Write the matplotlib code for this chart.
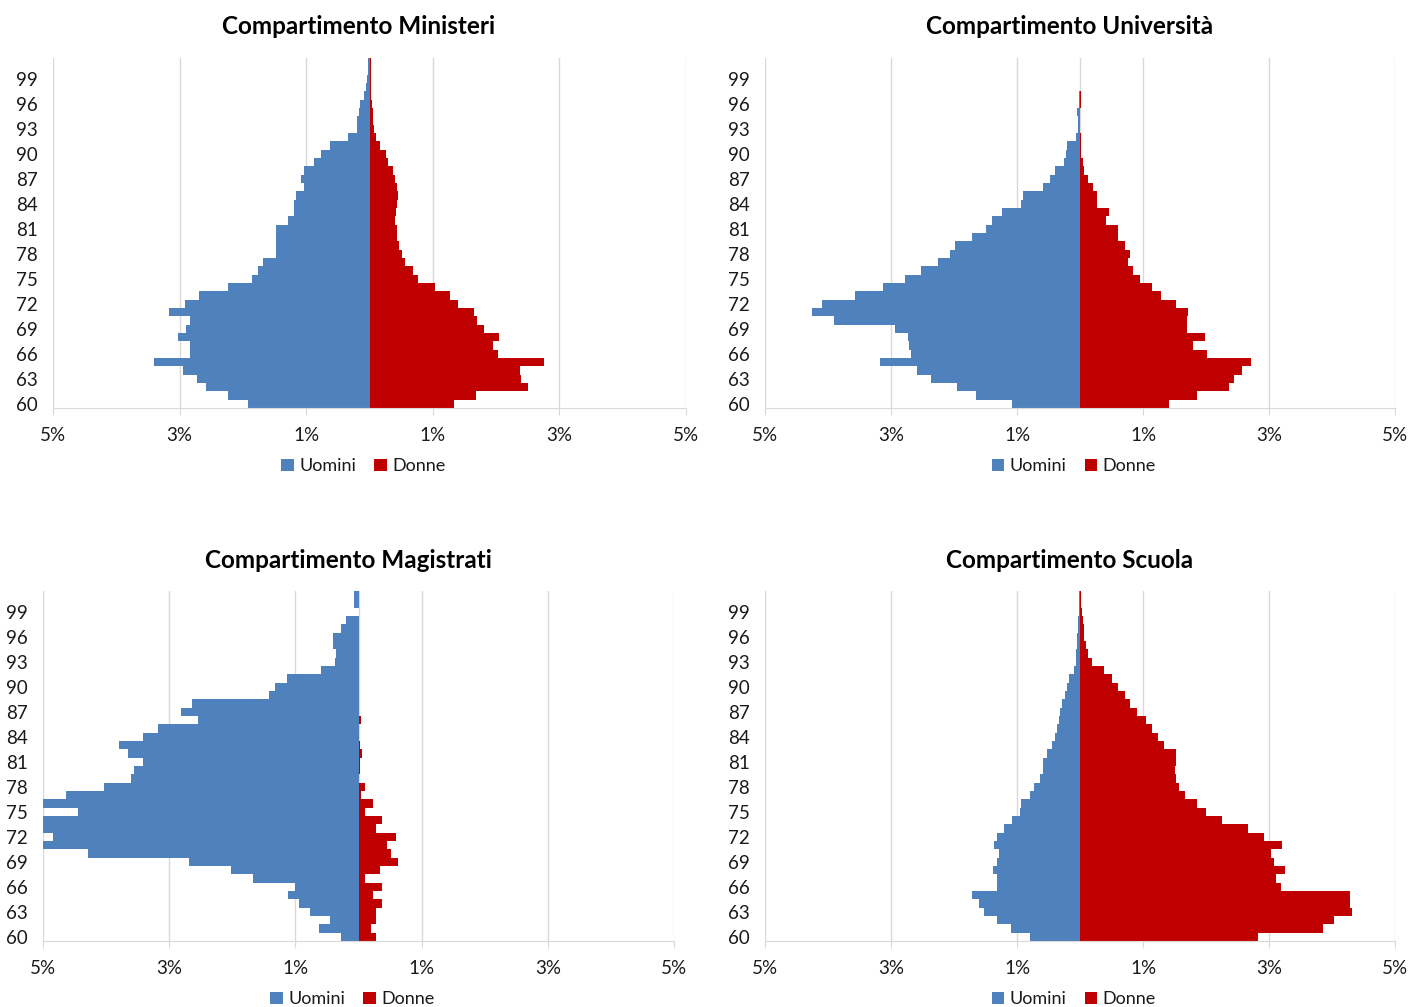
import numpy as np
import matplotlib.pyplot as plt

# Eta' 60..101 (una barra per anno)
ages = list(range(60, 102))
age_ticks = list(range(60, 100, 3))

x_ticks = [-5, -3, -1, 1, 3, 5]
x_labels = ["5%", "3%", "1%", "1%", "3%", "5%"]

# Quote percentuali per eta', da 60 a 101 anni
min_uomini = [1.92, 2.24, 2.58, 2.73, 2.94, 3.41, 2.84, 2.84, 3.02, 2.90, 2.84, 3.16, 2.92, 2.70,
              2.24, 1.86, 1.76, 1.69, 1.48, 1.48, 1.48, 1.47, 1.29, 1.20, 1.20, 1.16, 1.04, 1.08,
              1.04, 0.87, 0.76, 0.62, 0.34, 0.19, 0.20, 0.17, 0.15, 0.09, 0.06, 0.04, 0.02, 0.02]
min_donne = [1.34, 1.69, 2.50, 2.40, 2.37, 2.75, 2.03, 1.95, 2.05, 1.81, 1.70, 1.65, 1.40, 1.27,
             1.03, 0.77, 0.68, 0.56, 0.51, 0.46, 0.43, 0.43, 0.40, 0.42, 0.44, 0.45, 0.43, 0.41,
             0.37, 0.30, 0.26, 0.17, 0.10, 0.07, 0.06, 0.05, 0.04, 0.03, 0.02, 0.02, 0.02, 0.02]

uni_uomini = [1.08, 1.65, 1.95, 2.37, 2.58, 3.17, 2.68, 2.72, 2.73, 2.93, 3.90, 4.26, 4.09, 3.57,
              3.12, 2.77, 2.52, 2.26, 2.06, 1.98, 1.71, 1.50, 1.40, 1.24, 0.94, 0.91, 0.58, 0.47,
              0.40, 0.26, 0.22, 0.20, 0.06, 0.03, 0.03, 0.04, 0.02, 0.02, 0.0, 0.0, 0.0, 0.0]
uni_donne = [1.42, 1.85, 2.37, 2.44, 2.57, 2.71, 2.01, 1.79, 1.98, 1.70, 1.70, 1.72, 1.52, 1.28,
             1.15, 0.95, 0.84, 0.76, 0.80, 0.72, 0.60, 0.60, 0.42, 0.46, 0.27, 0.27, 0.20, 0.12,
             0.06, 0.05, 0.01, 0.02, 0.02, 0.005, 0.005, 0.005, 0.02, 0.01, 0.0, 0.0, 0.0, 0.0]

mag_uomini = [0.27, 0.62, 0.45, 0.77, 0.94, 1.11, 1.01, 1.67, 2.02, 2.68, 4.28, 5.00, 4.84, 5.00,
              5.00, 4.45, 5.00, 4.63, 4.03, 3.61, 3.55, 3.41, 3.65, 3.79, 3.41, 3.17, 2.54, 2.82,
              2.64, 1.42, 1.32, 1.14, 0.59, 0.38, 0.35, 0.41, 0.41, 0.27, 0.20, 0.0, 0.07, 0.07]
mag_donne = [0.28, 0.20, 0.27, 0.28, 0.38, 0.23, 0.38, 0.11, 0.34, 0.63, 0.52, 0.45, 0.59, 0.28,
             0.38, 0.10, 0.23, 0.04, 0.10, 0.0, 0.03, 0.03, 0.06, 0.03, 0.0, 0.0, 0.04, 0.0,
             0.0, 0.0, 0.0, 0.0, 0.0, 0.0, 0.0, 0.0, 0.0, 0.0, 0.0, 0.0, 0.0, 0.0]

scu_uomini = [0.79, 1.10, 1.32, 1.53, 1.61, 1.71, 1.31, 1.32, 1.38, 1.31, 1.29, 1.37, 1.31, 1.21,
              1.08, 0.95, 0.93, 0.80, 0.73, 0.63, 0.59, 0.58, 0.52, 0.45, 0.40, 0.37, 0.34, 0.31,
              0.28, 0.24, 0.20, 0.18, 0.10, 0.07, 0.06, 0.05, 0.04, 0.03, 0.03, 0.02, 0.02, 0.02]
scu_donne = [2.83, 3.85, 4.03, 4.32, 4.29, 4.28, 3.19, 3.11, 3.26, 3.08, 3.03, 3.21, 2.92, 2.66,
             2.25, 2.00, 1.86, 1.67, 1.57, 1.52, 1.50, 1.53, 1.52, 1.34, 1.24, 1.15, 1.05, 0.90,
             0.80, 0.72, 0.60, 0.50, 0.38, 0.19, 0.12, 0.09, 0.07, 0.06, 0.05, 0.03, 0.02, 0.02]

BLUE = "#4F81BD"
RED = "#C00000"
GRID = "#D9D9D9"

plt.rcParams['font.family'] = ['Lato', 'DejaVu Sans']

W, H = 1409, 1007
fig = plt.figure(figsize=(W / 100, H / 100), dpi=100)


def pyramid(box, title, title_x, uomini, donne):
	left, top, right, bottom = box
	ax = fig.add_axes([left / W, 1 - bottom / H, (right - left) / W, (bottom - top) / H])
	ax.axvline(0, color=GRID, lw=1, zorder=0)
	ax.barh(ages, -np.array(uomini), height=1.0, color=BLUE, label="Uomini", zorder=2)
	ax.barh(ages, donne, height=1.0, color=RED, label="Donne", zorder=2)
	ax.set_xlim(-5, 5)
	ax.set_ylim(59.5, 101.5)
	ax.set_xticks(x_ticks)
	ax.set_xticklabels(x_labels)
	ax.set_yticks(age_ticks)
	ax.grid(axis='x', color=GRID, lw=1, zorder=0)
	ax.set_axisbelow(True)
	for s in ['top', 'left', 'right']:
		ax.spines[s].set_visible(False)
	ax.spines['bottom'].set_color(GRID)
	ax.tick_params(axis='x', length=5, color=GRID, pad=9, labelsize=13.5, labelcolor='#1a1a1a')
	ax.tick_params(axis='y', length=0, pad=11, labelsize=13.5, labelcolor='#1a1a1a')
	fig.text(title_x / W, 1 - (top - 31) / H, title, ha='center', va='center',
			 fontsize=17.5, fontweight='bold')
	ax.legend(loc='center', bbox_to_anchor=(0.49, -0.167), ncol=2, frameon=False,
			  fontsize=13, handlelength=0.7, handleheight=0.7, handletextpad=0.3,
			  columnspacing=1.0, labelcolor='#1a1a1a')
	return ax


pyramid((53, 58, 686, 408), "Compartimento Ministeri", 359, min_uomini, min_donne)
pyramid((765, 58, 1395, 408), "Compartimento Università", 1070, uni_uomini, uni_donne)
pyramid((43, 591, 674, 941), "Compartimento Magistrati", 348, mag_uomini, mag_donne)
pyramid((765, 591, 1395, 941), "Compartimento Scuola", 1070, scu_uomini, scu_donne)

fig.savefig("out.png", dpi=100)
